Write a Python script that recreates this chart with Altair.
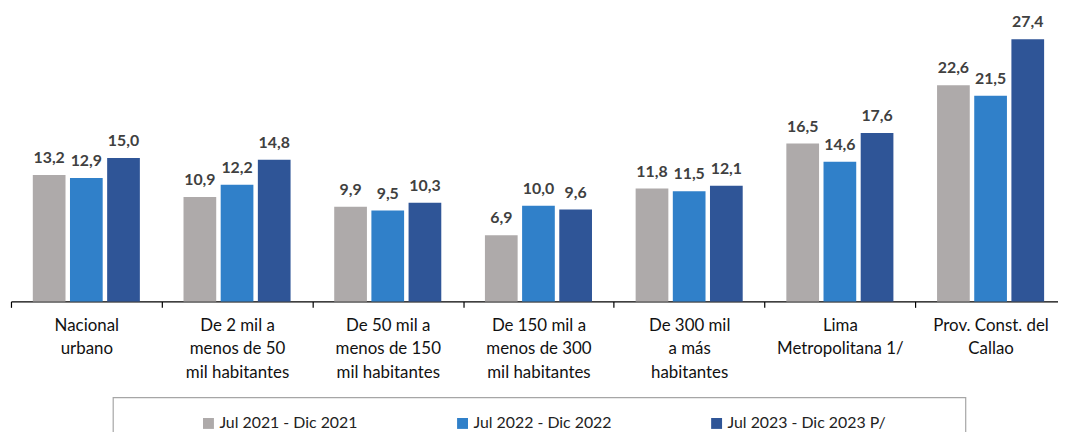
import altair as alt
import pandas as pd

categories = [
    "Nacional|urbano",
    "De 2 mil a|menos de 50|mil habitantes",
    "De 50 mil a|menos de 150|mil habitantes",
    "De 150 mil a|menos de 300|mil habitantes",
    "De 300 mil|a  más|habitantes",
    "Lima|Metropolitana 1/",
    "Prov. Const. del|Callao",
]
series = ["Jul 2021 - Dic 2021", "Jul 2022 - Dic 2022", "Jul 2023 - Dic 2023 P/"]
v2021 = [13.2, 10.9, 9.9, 6.9, 11.8, 16.5, 22.6]
v2022 = [12.9, 12.2, 9.5, 10.0, 11.5, 14.6, 21.5]
v2023 = [15.0, 14.8, 10.3, 9.6, 12.1, 17.6, 27.4]
colors = ["#AEAAAA", "#3080C9", "#2F5597"]

rows = []
for i, c in enumerate(categories):
    for s, vals in zip(series, [v2021, v2022, v2023]):
        rows.append({"cat": c, "serie": s, "value": vals[i]})
df = pd.DataFrame(rows)

FONT = "Lato"

x_enc = alt.X(
    "cat:N",
    sort=categories,
    scale=alt.Scale(paddingInner=0, paddingOuter=0, range=[0, 1063]),
    axis=alt.Axis(
        title=None,
        labelAngle=0,
        labelExpr="split(datum.label, '|')",
        labelFont=FONT,
        labelFontSize=17,
        labelColor="#111111",
        labelLineHeight=24,
        labelPadding=10,
        labelLimit=200,
        tickBand="extent",
        tickSize=6,
        tickColor="#000000",
        domainColor="#000000",
        domainWidth=1.2,
        tickWidth=1.2,
        grid=False,
    ),
)
xoff = alt.XOffset(
    "serie:N",
    sort=series,
    scale=alt.Scale(paddingInner=0.12, paddingOuter=0.587),
)
y_enc = alt.Y(
    "value:Q",
    scale=alt.Scale(domain=[0, 30.5], nice=False, zero=True),
    axis=None,
)
color_enc = alt.Color(
    "serie:N",
    sort=series,
    scale=alt.Scale(domain=series, range=colors),
    legend=alt.Legend(
        title=None,
        orient="none",
        legendX=191,
        legendY=409,
        direction="horizontal",
        symbolType="square",
        symbolSize=121,
        symbolStrokeWidth=0,
        symbolOpacity=1,
        labelFont=FONT,
        labelFontSize=16,
        labelColor="#222222",
        labelOffset=3,
        columnPadding=97,
        labelLimit=300,
    ),
)

base = alt.Chart(df)
bars = base.mark_bar(opacity=1).encode(x=x_enc, xOffset=xoff, y=y_enc, color=color_enc)
labels = base.transform_calculate(
    lbl="replace(format(datum.value, '.1f'), '.', ',')"
).mark_text(
    font=FONT, fontSize=16, fontWeight="bold", color="#404040",
    baseline="alphabetic", dy=-12,
).encode(x=x_enc, xOffset=xoff, y=y_enc, text="lbl:N")

frame = alt.Chart(pd.DataFrame({"k": [0]})).mark_rect(
    fill="transparent", stroke="#A6A6A6", strokeWidth=1.2
).encode(x=alt.value(103), x2=alt.value(962), y=alt.value(391), y2=alt.value(470))

chart = alt.layer(frame, bars, labels).properties(
    width=1055, height=294,
    background="white",
    autosize=alt.AutoSizeParams(type="none"),
    padding={"left": 3, "top": 0, "right": 0, "bottom": 130},
).configure_view(stroke=None, strokeWidth=0)

chart.save("out.html", embed_options={"renderer": "svg", "actions": False})
